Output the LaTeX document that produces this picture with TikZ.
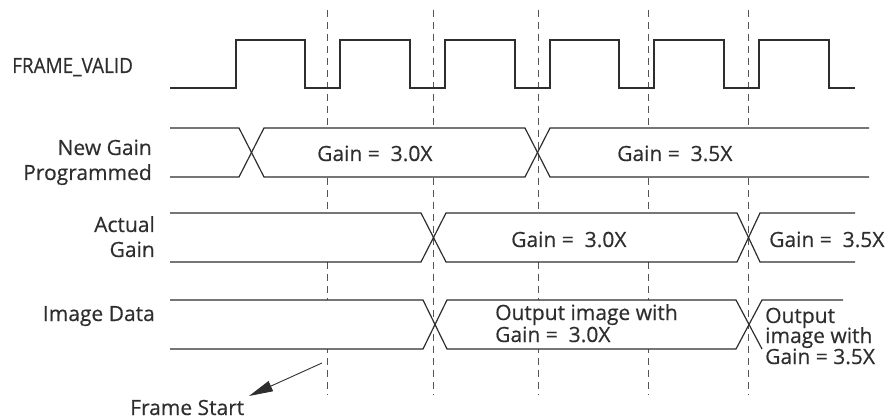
\documentclass[tikz,border=0pt]{standalone}
\usepackage{fontspec}
\setmainfont{Open Sans}[FakeBold=0.4]
\usetikzlibrary{arrows.meta}
\definecolor{ink}{HTML}{2E2E2E}
\definecolor{dashc}{HTML}{555555}
\begin{document}
\begin{tikzpicture}[x=1pt,y=-1pt,
  wave/.style={draw=ink,line width=1.2pt,line join=miter},
  busfill/.style={fill=white,draw=none},
  guide/.style={draw=dashc,line width=1pt,dash pattern=on 7pt off 5pt},
  lbl/.style={inner sep=0pt,text=ink,font=\fontsize{21}{24}\selectfont},
  lble/.style={lbl,anchor=base east},
  lblw/.style={lbl,anchor=base west}]
\useasboundingbox (0,0) rectangle (896,419);
% guide lines
\foreach \x in {327,433,538,648,748} \draw[guide] (\x,10) -- (\x,395);
% FRAME_VALID
\draw[wave] (170,88) -- (236,88) -- (236,40) -- (305,40) -- (305,88) -- (340,88) -- (340,40) -- (410,40) -- (410,88) -- (445,88) -- (445,40) -- (515,40) -- (515,88) -- (550,88) -- (550,40) -- (619,40) -- (619,88) -- (654,88) -- (654,40) -- (724,40) -- (724,88) -- (759,88) -- (759,40) -- (829,40) -- (829,88) -- (855,88);
% New Gain Programmed
\fill[busfill] (170,128) -- (239,128) -- (251.5,152.5) -- (239,177) -- (170,177) -- cycle;
\fill[busfill] (264,128) -- (525,128) -- (537.5,152.5) -- (525,177) -- (264,177) -- (251.5,152.5) -- cycle;
\fill[busfill] (550,128) -- (869,128) -- (869,177) -- (550,177) -- (537.5,152.5) -- cycle;
\draw[wave] (170,128) -- (239,128) -- (264,177) -- (525,177) -- (550,128) -- (869,128);
\draw[wave] (170,177) -- (239,177) -- (264,128) -- (525,128) -- (550,177) -- (869,177);
% Actual Gain
\fill[busfill] (170,213) -- (421,213) -- (433.5,237.5) -- (421,262) -- (170,262) -- cycle;
\fill[busfill] (446,213) -- (737,213) -- (748.5,237.5) -- (737,262) -- (446,262) -- (433.5,237.5) -- cycle;
\fill[busfill] (760,213) -- (855,213) -- (855,262) -- (760,262) -- (748.5,237.5) -- cycle;
\draw[wave] (170,213) -- (421,213) -- (446,262) -- (737,262) -- (760,213) -- (855,213);
\draw[wave] (170,262) -- (421,262) -- (446,213) -- (737,213) -- (760,262) -- (855,262);
% Image Data
\fill[busfill] (170,300) -- (423,300) -- (435,324.5) -- (423,349) -- (170,349) -- cycle;
\fill[busfill] (447,300) -- (736,300) -- (749,324.5) -- (736,349) -- (447,349) -- (435,324.5) -- cycle;
\draw[wave] (170,300) -- (423,300) -- (447,349) -- (736,349) -- (762,300) -- (843,300);
\draw[wave] (170,349) -- (423,349) -- (447,300) -- (736,300) -- (762,349);
% signal labels
\node[lblw] (fv) at (12,73) {\scalebox{0.9}[1]{FRAME\_VALID}};
\node[lble] (ng1) at (152,155) {New Gain};
\node[lble] (ng2) at (152,180) {Programmed};
\node[lble] (ag1) at (155,232) {Actual};
\node[lble] (ag2) at (155,257) {Gain};
\node[lble] (id) at (155,321) {Image Data};
% bus values
\node[lblw] (g30a) at (317,161) {Gain =\ \ 3.0X};
\node[lblw] (g35a) at (617,161) {Gain =\ \ 3.5X};
\node[lblw] (g30b) at (511,247) {Gain =\ \ 3.0X};
\node[lblw] (g35b) at (769,247) {Gain =\ \ 3.5X};
\node[lblw] (o1) at (495,320) {Output image with};
\node[lblw] (o2) at (495,342) {Gain =\ \ 3.0X};
\node[lblw] (p1) at (765,323) {Output};
\node[lblw] (p2) at (765,343) {image with};
\node[lblw] (p3) at (765,364) {Gain = 3.5X};
% frame start
\node[lblw] (fs) at (130,415) {Frame Start};
\coordinate (fsfrom) at (322,363);
\coordinate (fstip) at (249,396);
\draw[draw=ink,line width=0.9pt,-{Triangle[length=24pt,width=11pt]}] (fsfrom) -- (fstip);
\end{tikzpicture}
\end{document}
